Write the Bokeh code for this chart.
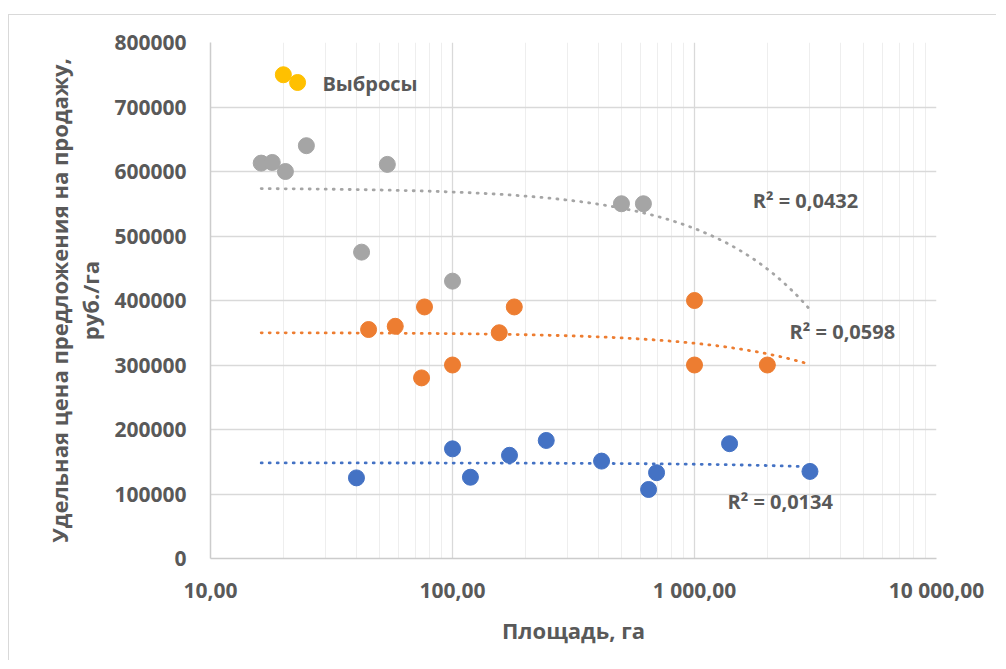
import numpy as np
from bokeh.plotting import figure
from bokeh.models import FixedTicker, BasicTickFormatter, Label
from bokeh.embed import file_html
from bokeh.resources import INLINE

# ---- data ----
gray_x = [16.2, 18.0, 20.4, 24.9, 42.1, 53.8, 100, 499, 615]
gray_y = [613000, 614000, 600000, 640000, 475000, 611000, 430000, 550000, 550000]
orange_x = [45, 58, 74.5, 76.6, 100, 156, 180, 1000, 1000, 2000]
orange_y = [355000, 360000, 280000, 390000, 300000, 350000, 390000, 400000, 300000, 300000]
blue_x = [40.1, 100, 118.6, 172, 244, 413, 646, 697, 1396, 3000]
blue_y = [125000, 170000, 126000, 160000, 183000, 151000, 107000, 133000, 178000, 135000]
outlier_x = [20.0, 22.9]
outlier_y = [750000, 738000]
outlier_label = "Выбросы"
r2_labels = ["R² = 0,0432", "R² = 0,0598", "R² = 0,0134"]
x_ticks = [10, 100, 1000, 10000]
x_tick_labels = ["10,00", "100,00", "1 000,00", "10 000,00"]
y_ticks = [0, 100000, 200000, 300000, 400000, 500000, 600000, 700000, 800000]
x_title = "Площадь, га"
y_title = "Удельная цена предложения на продажу,\nруб./га"

GRAY = "#A5A5A5"
ORANGE = "#ED7D31"
BLUE = "#4472C4"
YELLOW = "#FFC000"
TXT = "#595959"
FONT = "Open Sans"

p = figure(width=988, height=646, x_axis_type="log",
           x_range=(10, 10000), y_range=(0, 800000),
           output_backend="svg", toolbar_location=None,
           min_border_left=201, min_border_right=61,
           min_border_top=27, min_border_bottom=103)
p.styles = {"margin-left": "8px", "margin-top": "14px",
            "border-left": "1px solid #d9d9d9", "border-top": "1px solid #d9d9d9"}
p.outline_line_color = None
p.background_fill_color = "white"
p.border_fill_color = "white"

minor = [k * 10 ** e for e in (1, 2, 3) for k in range(2, 10)]
xt = FixedTicker(ticks=x_ticks, minor_ticks=minor)
yt = FixedTicker(ticks=y_ticks)
p.xaxis.ticker = xt
p.xgrid.ticker = xt
p.yaxis.ticker = yt
p.ygrid.ticker = yt
p.xaxis.major_label_overrides = {t: l for t, l in zip(x_ticks, x_tick_labels)}
p.yaxis.formatter = BasicTickFormatter(use_scientific=False)

p.xgrid.grid_line_color = "#d9d9d9"
p.xgrid.minor_grid_line_color = "#eeeeee"
p.ygrid.grid_line_color = "#d9d9d9"
p.xgrid.grid_line_width = 1.3
p.ygrid.grid_line_width = 1.3

for ax in (p.xaxis, p.yaxis):
    ax.axis_line_color = "#cccccc"
    ax.axis_line_width = 1.5
    ax.major_tick_line_color = None
    ax.minor_tick_line_color = None
    ax.major_label_text_font = FONT
    ax.major_label_text_font_style = "bold"
    ax.major_label_text_font_size = "21px"
    ax.major_label_text_color = TXT
    ax.axis_label_text_font = FONT
    ax.axis_label_text_font_style = "bold"
    ax.axis_label_text_font_size = "22px"
    ax.axis_label_text_color = TXT
    ax.axis_label_text_line_height = 1.05

p.xaxis.major_label_standoff = 11
p.yaxis.major_label_standoff = 18
p.xaxis.axis_label = x_title
p.yaxis.axis_label = y_title
p.xaxis.axis_label_standoff = 8
p.yaxis.axis_label_standoff = 6

# trendlines (linear least squares, drawn over the data's x span)
all_x = gray_x + orange_x + blue_x
xs = np.geomspace(min(all_x), max(all_x), 300)
for sx, sy, c in ((gray_x, gray_y, GRAY), (orange_x, orange_y, ORANGE), (blue_x, blue_y, BLUE)):
    b, a = np.polyfit(sx, sy, 1)
    p.line(xs, a + b * xs, line_color=c, line_width=2.8, line_dash="1 7", line_cap="round")

for sx, sy, c in ((blue_x, blue_y, BLUE), (orange_x, orange_y, ORANGE),
                  (gray_x, gray_y, GRAY), (outlier_x, outlier_y, YELLOW)):
    p.scatter(sx, sy, size=16, fill_color=c, line_color=c)

def lab(x, y, t):
    p.add_layout(Label(x=x, y=y, text=t, text_font=FONT, text_font_style="bold",
                       text_font_size="20px", text_color=TXT,
                       text_align="left", text_baseline="middle"))

lab(29.0, 736000, outlier_label)
lab(1740, 555000, r2_labels[0])
lab(2472, 352000, r2_labels[1])
lab(1368, 88400, r2_labels[2])

open("out.html", "w").write(file_html(p, INLINE))
